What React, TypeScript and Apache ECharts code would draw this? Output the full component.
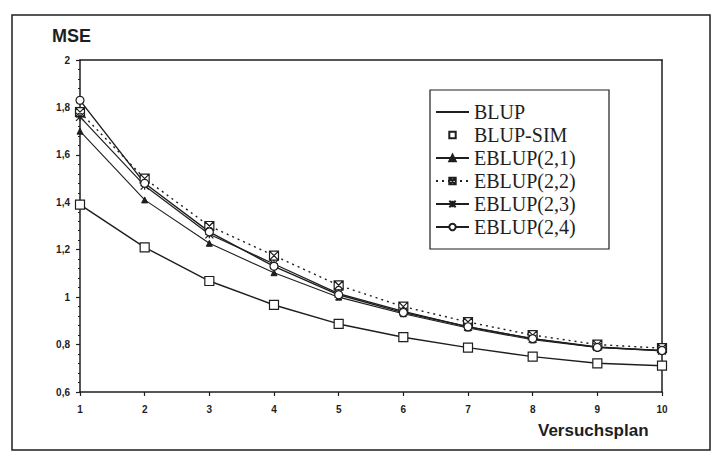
import React, { useEffect, useRef } from "react";
import * as echarts from "echarts";

const plans = [1, 2, 3, 4, 5, 6, 7, 8, 9, 10];
const blup = [1.39, 1.21, 1.068, 0.967, 0.887, 0.831, 0.787, 0.749, 0.721, 0.711];
const blupSim = [1.39, 1.21, 1.068, 0.967, 0.887, 0.831, 0.787, 0.749, 0.721, 0.711];
const eblup21 = [1.7, 1.41, 1.227, 1.103, 1.0, 0.93, 0.87, 0.82, 0.788, 0.773];
const eblup22 = [1.78, 1.5, 1.3, 1.175, 1.05, 0.96, 0.895, 0.84, 0.8, 0.785];
const eblup23 = [1.76, 1.47, 1.265, 1.14, 1.015, 0.94, 0.875, 0.825, 0.79, 0.775];
const eblup24 = [1.83, 1.48, 1.275, 1.13, 1.01, 0.935, 0.875, 0.825, 0.788, 0.775];
const seriesNames = ["BLUP", "BLUP-SIM", "EBLUP(2,1)", "EBLUP(2,2)", "EBLUP(2,3)", "EBLUP(2,4)"];

const INK = "#1e1e1e";
const pair = (vals: number[]) => plans.map((p, i) => [p, vals[i]]);

export default function App() {
  const ref = useRef<HTMLDivElement>(null);
  useEffect(() => {
    if (!ref.current) return;
    const chart = echarts.init(ref.current, null, { renderer: "svg" });
    const axisFont = { fontFamily: "Liberation Sans", fontWeight: "bold" as const, fontSize: 10, color: INK };
    const base = {
      type: "line" as const,
      lineStyle: { color: INK, width: 1.4 },
      itemStyle: { color: "#fff", borderColor: INK, borderWidth: 1.2 },
      symbolSize: 8,
    };
    chart.setOption({
      animation: false,
      backgroundColor: "#fff",
      grid: { left: 80, right: 51, top: 60, bottom: 62 },
      xAxis: [
        {
          type: "value",
          min: 1,
          max: 10,
          interval: 1,
          axisLine: { lineStyle: { color: INK, width: 1.5 } },
          axisTick: { show: true, length: 4, lineStyle: { color: INK, width: 1.2 } },
          axisLabel: { ...axisFont, margin: 12 },
          splitLine: { show: false },
        },
        {
          type: "value",
          position: "top",
          min: 1,
          max: 10,
          axisLine: { show: true, lineStyle: { color: INK, width: 1.5 } },
          axisTick: { show: false },
          axisLabel: { show: false },
          splitLine: { show: false },
        },
      ],
      yAxis: [
        {
          type: "value",
          min: 0.6,
          max: 2,
          interval: 0.2,
          axisLine: { show: true, lineStyle: { color: INK, width: 1.5 } },
          axisTick: { show: true, length: 4, lineStyle: { color: INK, width: 1.2 } },
          minorTick: { show: true, splitNumber: 5, length: 2, lineStyle: { color: INK } },
          axisLabel: {
            ...axisFont,
            margin: 10,
            formatter: (v: number) => String(Math.round(v * 10) / 10).replace(".", ","),
          },
          splitLine: { show: false },
        },
        {
          type: "value",
          position: "right",
          min: 0.6,
          max: 2,
          axisLine: { show: true, lineStyle: { color: INK, width: 1.5 } },
          axisTick: { show: false },
          axisLabel: { show: false },
          splitLine: { show: false },
        },
      ],
      legend: {
        orient: "vertical",
        left: 430,
        top: 90,
        data: [
          { name: seriesNames[0], itemStyle: { color: "transparent", borderColor: "transparent", borderWidth: 0 } },
          seriesNames[1],
          seriesNames[2],
          seriesNames[3],
          seriesNames[4],
          seriesNames[5],
        ],
        itemWidth: 33,
        itemHeight: 8,
        itemGap: 3,
        padding: [12, 0, 12, 5],
        textStyle: { fontFamily: "Liberation Serif", fontSize: 20, color: INK, lineHeight: 20 },
      },
      graphic: [
        {
          type: "rect",
          shape: { x: 12, y: 15, width: 698, height: 435 },
          style: { fill: "none", stroke: INK, lineWidth: 1.5 },
          silent: true,
          z: -1,
        },
        {
          type: "rect",
          shape: { x: 430, y: 90, width: 179, height: 159 },
          style: { fill: "#fff", stroke: INK, lineWidth: 1.2 },
          silent: true,
          z: 0,
        },
        {
          type: "text",
          left: 52,
          top: 27,
          style: { text: "MSE", font: "bold 18px 'Liberation Sans'", fill: INK },
        },
        {
          type: "text",
          left: 538,
          top: 422,
          style: { text: "Versuchsplan", font: "bold 17px 'Liberation Sans'", fill: INK },
        },
      ],
      series: [
        { ...base, name: seriesNames[0], data: pair(blup), symbol: "none", showSymbol: false },
        {
          ...base,
          name: seriesNames[1],
          data: pair(blupSim),
          symbol: "rect",
          symbolSize: 9,
          lineStyle: { color: INK, width: 0, opacity: 0 },
          z: 5,
        },
        {
          ...base,
          name: seriesNames[2],
          data: pair(eblup21),
          symbol: "triangle",
          lineStyle: { color: INK, width: 1.1 },
          itemStyle: { color: INK, borderColor: INK, borderWidth: 1 },
          symbolSize: 6,
        },
        {
          ...base,
          name: seriesNames[3],
          data: pair(eblup22),
          symbol: "path://M0,0 L10,0 L10,10 L0,10 Z M0,0 L10,10 M10,0 L0,10",
          symbolSize: 9,
          lineStyle: { color: INK, width: 1.4, type: [2, 4] },
        },
        {
          ...base,
          name: seriesNames[4],
          data: pair(eblup23),
          symbol: "path://M0,0 L10,10 M10,0 L0,10 M5,0 L5,10 M0,5 L10,5",
          symbolSize: 8,
          lineStyle: { color: INK, width: 1.2 },
        },
        {
          ...base,
          name: seriesNames[5],
          data: pair(eblup24),
          symbol: "circle",
          symbolSize: 8,
          lineStyle: { color: INK, width: 1.4 },
        },
      ],
    });
    return () => chart.dispose();
  }, []);
  return (
    <div
      ref={ref}
      style={{ position: "fixed", left: 0, top: 0, width: 713, height: 454, background: "#fff" }}
    />
  );
}
